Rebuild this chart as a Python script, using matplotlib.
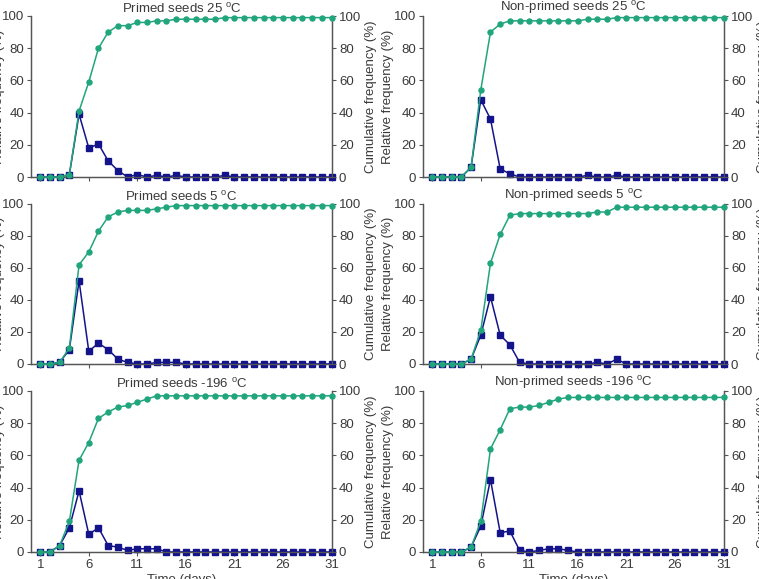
"""Germination time-course: relative and cumulative frequency, six treatments."""
import matplotlib
matplotlib.use("Agg")
import matplotlib.pyplot as plt

plt.rcParams["font.family"] = ["Liberation Sans", "DejaVu Sans"]
plt.rcParams["mathtext.default"] = "regular"

DAYS = list(range(1, 32))

TITLES = [
    "Primed seeds 25 $^{o}$C", "Non-primed seeds 25 $^{o}$C",
    "Primed seeds 5 $^{o}$C", "Non-primed seeds 5 $^{o}$C",
    "Primed seeds -196 $^{o}$C", "Non-primed seeds -196 $^{o}$C",
]

# relative frequency (%), days 1..31
rel_p25 = [0, 0, 0, 1.5, 39, 18, 20.5, 10, 4, 0, 1.5, 0, 1, 0, 1, 0, 0, 0, 0, 1,
           0, 0, 0, 0, 0, 0, 0, 0, 0, 0, 0]
rel_n25 = [0, 0, 0, 0, 6, 48, 36, 5, 2, 0, 0, 0, 0, 0, 0, 0, 1, 0, 0, 1,
           0, 0, 0, 0, 0, 0, 0, 0, 0, 0, 0]
rel_p5 = [0, 0, 1, 9, 52, 8, 13, 9, 3, 1, 0, 0, 1, 1, 1, 0, 0, 0, 0, 0,
          0, 0, 0, 0, 0, 0, 0, 0, 0, 0, 0]
rel_n5 = [0, 0, 0, 0, 3, 18, 42, 18, 12, 1, 0, 0, 0, 0, 0, 0, 0, 1, 0, 3,
          0, 0, 0, 0, 0, 0, 0, 0, 0, 0, 0]
rel_p196 = [0, 0, 4, 15, 38, 11, 15, 4, 3, 1, 2, 2, 2, 0, 0, 0, 0, 0, 0, 0,
            0, 0, 0, 0, 0, 0, 0, 0, 0, 0, 0]
rel_n196 = [0, 0, 0, 0, 3, 16, 45, 12, 13, 1, 0, 1, 2, 2, 1, 0, 0, 0, 0, 0,
            0, 0, 0, 0, 0, 0, 0, 0, 0, 0, 0]

# cumulative frequency (%), days 1..31
cum_p25 = [0, 0, 0, 1.5, 41, 59, 80, 90, 94, 94, 96, 96, 97, 97, 98, 98, 98, 98,
           98, 99, 99, 99, 99, 99, 99, 99, 99, 99, 99, 99, 99]
cum_n25 = [0, 0, 0, 0, 6, 54, 90, 95, 97, 97, 97, 97, 97, 97, 97, 97, 98, 98,
           98, 99, 99, 99, 99, 99, 99, 99, 99, 99, 99, 99, 99]
cum_p5 = [0, 0, 1, 10, 62, 70, 83, 92, 95, 96, 96, 96, 97, 98, 99, 99, 99, 99,
          99, 99, 99, 99, 99, 99, 99, 99, 99, 99, 99, 99, 99]
cum_n5 = [0, 0, 0, 0, 3, 21, 63, 81, 93, 94, 94, 94, 94, 94, 94, 94, 94, 95,
          95, 98, 98, 98, 98, 98, 98, 98, 98, 98, 98, 98, 98]
cum_p196 = [0, 0, 4, 19, 57, 68, 83, 87, 90, 91, 93, 95, 97, 97, 97, 97, 97, 97,
            97, 97, 97, 97, 97, 97, 97, 97, 97, 97, 97, 97, 97]
cum_n196 = [0, 0, 0, 0, 3, 19, 64, 76, 89, 90, 90, 91, 93, 95, 96, 96, 96, 96,
            96, 96, 96, 96, 96, 96, 96, 96, 96, 96, 96, 96, 96]

REL = [rel_p25, rel_n25, rel_p5, rel_n5, rel_p196, rel_n196]
CUM = [cum_p25, cum_n25, cum_p5, cum_n5, cum_p196, cum_n196]

NAVY, GREEN, SPINE, TXT = "#14148a", "#20a57c", "#555555", "#3a3a3a"
FS = 9.5

fig = plt.figure(figsize=(7.59, 5.79), dpi=100)
W, H = 759, 579
cols = [(31, 332), (423, 724)]
rows = [(16, 177), (204, 364), (391, 552)]

for i in range(6):
    r, c = divmod(i, 2)
    x0, x1 = cols[c]
    y0, y1 = rows[r]
    ax = fig.add_axes([x0 / W, 1 - y1 / H, (x1 - x0) / W, (y1 - y0) / H])
    ax2 = ax.twinx()

    ax.plot(DAYS, REL[i], color=NAVY, lw=1.1, marker="s", ms=3.8,
            clip_on=False, zorder=3)
    ax2.plot(DAYS, CUM[i], color=GREEN, lw=1.1, marker="o", ms=3.6,
             clip_on=False, zorder=3)

    for a in (ax, ax2):
        a.set_xlim(0.05, 31.05)
        a.set_ylim(0, 100)
        a.set_yticks(range(0, 101, 20))
        a.spines["top"].set_visible(False)
        for s in a.spines.values():
            s.set_color(SPINE)
            s.set_linewidth(0.9)
        a.tick_params(colors=SPINE, labelcolor=TXT, labelsize=FS,
                      length=3, width=0.8, pad=2)
    ax.set_xticks([1, 6, 11, 16, 21, 26, 31])
    if r < 2:
        ax.set_xticklabels([])
    else:
        ax.set_xlabel("Time (days)", fontsize=FS, color=TXT, labelpad=2)

    ax.set_ylabel("Relative frequency (%)", fontsize=FS, color=TXT)
    ax2.set_ylabel("Cumulative frequency (%)", fontsize=FS, color=TXT,
                   rotation=90)
    lx = -0.085 if c == 0 else -0.098
    ax.yaxis.set_label_coords(lx, 0.5)
    ax2.yaxis.set_label_coords(1.11, 0.5)
    ax.set_title(TITLES[i], fontsize=FS, color=TXT, pad=2)

fig.savefig("out.png", dpi=100)
